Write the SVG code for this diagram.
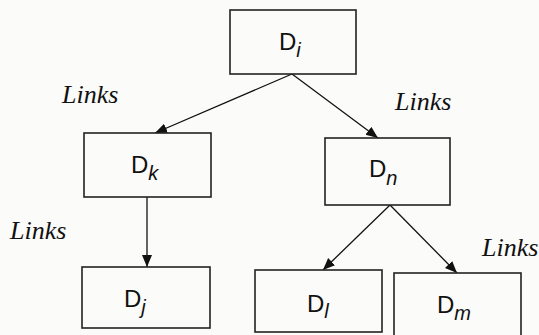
<svg xmlns="http://www.w3.org/2000/svg" width="539" height="335" viewBox="0 0 539 335">
  <style>
    .box { fill: #fbfbf9; stroke: #222; stroke-width: 1.6; }
    .lbl { font-family: "Liberation Sans", Arial, sans-serif; font-size: 24px; fill: #111; }
    .sub { font-style: italic; font-size: 20px; }
    .link { font-family: "Liberation Serif", "Times New Roman", serif; font-style: italic; font-size: 26px; fill: #111; }
    .conn { stroke: #111; stroke-width: 1.3; fill: none; marker-end: url(#arrow); }
  </style>
  <defs>
    <marker id="arrow" markerUnits="userSpaceOnUse" markerWidth="14" markerHeight="12" refX="12" refY="5" orient="auto">
      <path d="M0,0 L12,5 L0,10 Z" fill="#111"/>
    </marker>
  </defs>
  <rect width="539" height="335" fill="#fbfbf9"/>

  <g id="connectors">
    <line class="conn" x1="292" y1="74" x2="155" y2="133"/>
    <line class="conn" x1="292" y1="74" x2="378" y2="138"/>
    <line class="conn" x1="147" y1="197" x2="147" y2="267"/>
    <line class="conn" x1="390" y1="205" x2="323" y2="270"/>
    <line class="conn" x1="390" y1="205" x2="457" y2="273"/>
  </g>

  <g id="node-Di">
    <rect class="box" x="230" y="10" width="126" height="64"/>
    <text class="lbl" x="279" y="50">D<tspan class="sub" dy="7">i</tspan></text>
  </g>
  <g id="node-Dk">
    <rect class="box" x="84" y="133" width="127" height="64"/>
    <text class="lbl" x="131" y="173">D<tspan class="sub" dy="7">k</tspan></text>
  </g>
  <g id="node-Dn">
    <rect class="box" x="325" y="138" width="125" height="67"/>
    <text class="lbl" x="369" y="177">D<tspan class="sub" dy="8">n</tspan></text>
  </g>
  <g id="node-Dj">
    <rect class="box" x="82" y="267" width="128" height="61"/>
    <text class="lbl" x="124" y="307">D<tspan class="sub" dy="7">j</tspan></text>
  </g>
  <g id="node-Dl">
    <rect class="box" x="255" y="270" width="127" height="62"/>
    <text class="lbl" x="307" y="312">D<tspan class="sub" dy="6">l</tspan></text>
  </g>
  <g id="node-Dm">
    <rect class="box" x="394" y="273" width="127" height="64"/>
    <text class="lbl" x="437" y="313">D<tspan class="sub" dy="7">m</tspan></text>
  </g>

  <g id="labels">
    <text class="link" x="62" y="103">Links</text>
    <text class="link" x="395" y="110">Links</text>
    <text class="link" x="10" y="239">Links</text>
    <text class="link" x="482" y="256">Links</text>
  </g>
</svg>
